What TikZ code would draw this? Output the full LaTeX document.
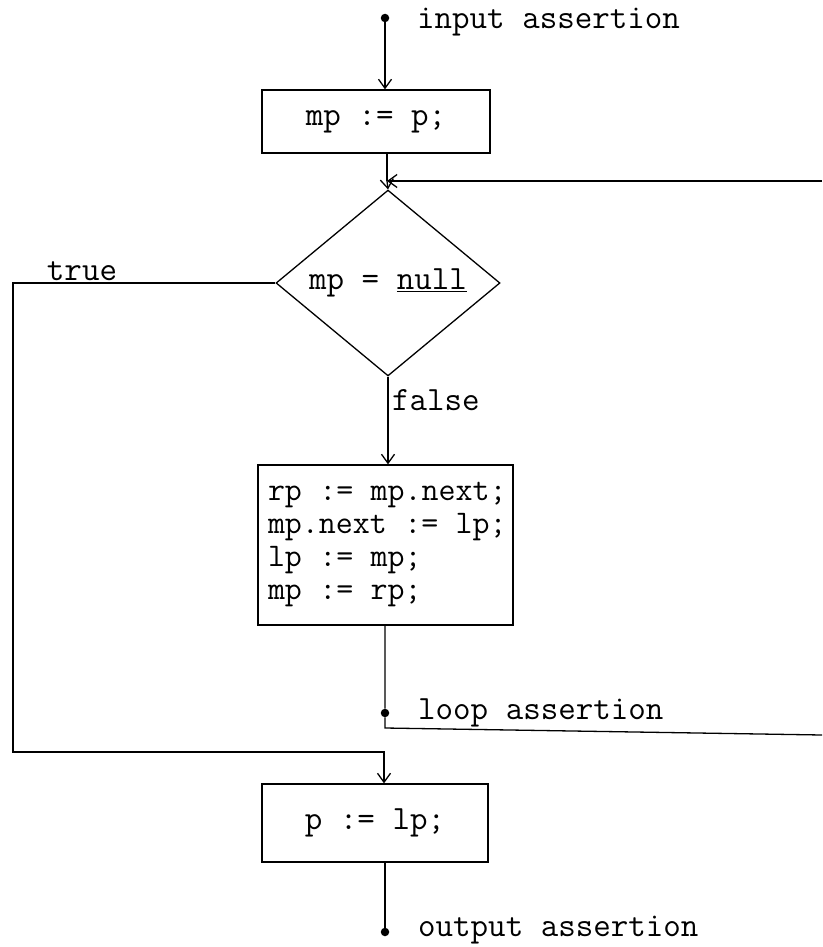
\documentclass[tikz,border=0pt]{standalone}
\usetikzlibrary{shapes.geometric,arrows.meta}
\newcommand{\fixsp}{\fontdimen3\font=0pt\fontdimen4\font=0pt\frenchspacing}
\newcommand{\tfont}{\fontsize{34}{34}\selectfont\ttfamily\fixsp}
\newcommand{\bfontsm}{\fontsize{33}{33}\selectfont\ttfamily\fixsp}
\newcommand{\codeline}[1]{\mbox{\hspace*{5pt}\spaceskip=0.525em\relax\xspaceskip=0.525em\relax #1}}
\begin{document}
\begin{tikzpicture}[x=1pt,y=-1pt,
  flow/.style={line width=1.3pt},
  arr/.style={flow,-{Straight Barb[length=9pt,width=13pt,line width=1.3pt]}},
  box/.style={draw,line width=1.3pt,inner sep=0pt,font=\tfont},
  dia/.style={draw,line width=1.3pt,diamond,inner sep=0pt,font=\tfont},
  lbl/.style={font=\tfont,inner sep=0pt},
  dotn/.style={circle,fill,inner sep=0pt,minimum size=8.5pt}]
\useasboundingbox (0,0) rectangle (822,947);

% nodes
\node[dotn] (din) at (385,18) {};
\node[lbl,anchor=west] (lin) at (417,22) {input assertion};
\node[box,minimum width=228pt,minimum height=63pt] (b1) at (376,121.5) {mp := p;};
\coordinate (m) at (387,181);
\coordinate (ret) at (822,181);
\node[dia,minimum width=224pt,minimum height=160pt] (d) at (388,283) {mp = \underline{null}};
\node[lbl,anchor=base] (ltrue) at (82,280) {true};
\node[lbl,anchor=west] (lfalse) at (392,400) {false};
\node[box,font=\bfontsm,minimum width=255pt,minimum height=160pt,align=left,text width=245pt,inner xsep=5pt] (b3) at (385.5,545)
  {\codeline{rp := mp.next;}\\\codeline{mp.next := lp;}\\\codeline{lp := mp;}\\\codeline{mp := rp;}};
\node[dotn] (dloop) at (385,713) {};
\node[lbl,anchor=west] (lloop) at (418,713) {loop assertion};
\coordinate (lc) at (385,728);
\coordinate (le) at (822,735);
\coordinate (tl) at (13,283);
\coordinate (bl) at (13,752);
\coordinate (jn) at (384,752);
\node[box,minimum width=226pt,minimum height=78pt] (b4) at (375,823) {p := lp;};
\node[dotn] (dout) at (385,932) {};
\node[lbl,anchor=west] (lout) at (418,930) {output assertion};

% connectors
\draw[arr] (din) -- (din |- b1.north);
\draw[flow] (m |- b1.south) -- (m);
\draw[arr] (m) -- (d.north);
\draw[arr] (ret) -- (m);
\draw[arr] (d.south) -- (d.south |- b3.north);
\draw[flow] (b3.south -| dloop) -- (dloop) -- (lc) -- (le);
\draw[arr] (d.west) -- (tl) -- (bl) -- (jn) -- (jn |- b4.north);
\draw[flow] (b4.south -| dout) -- (dout);
\end{tikzpicture}
\end{document}
